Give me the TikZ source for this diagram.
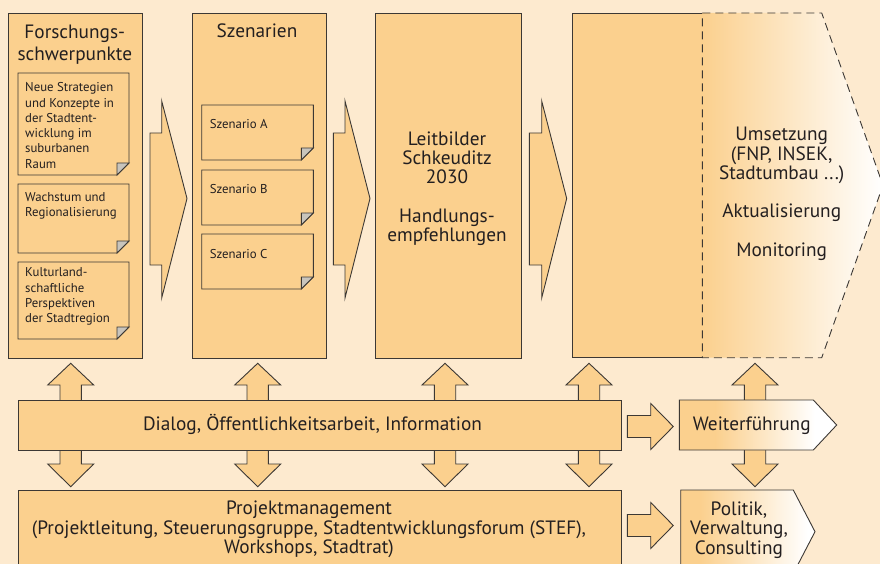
\documentclass[tikz,border=0pt]{standalone}
\usepackage{fontspec}
\setmainfont{PT Sans}
\definecolor{bgc}{RGB}{253,234,207}
\definecolor{boxc}{RGB}{251,208,142}
\definecolor{linec}{RGB}{60,56,52}
\definecolor{foldc}{RGB}{200,196,188}
\definecolor{txtc}{RGB}{35,31,32}
\newcommand\chevarrow[3]{%
  \draw[blockarrow] (#1,133) -- (#2,133) -- (#2,101) -- (#3,198.5) -- (#2,298) -- (#2,265) -- (#1,265) -- cycle;}
\newcommand\vdarrow[1]{%
  \draw[blockarrow] ({#1-10.7},401) -- ({#1-10.7},385) -- ({#1-23},385) -- (#1,363.3) -- ({#1+23},385) -- ({#1+10.7},385) -- ({#1+10.7},401);
  \draw[blockarrow] ({#1-10.7},449) -- ({#1-10.7},464) -- ({#1-23},464) -- (#1,486.7) -- ({#1+23},464) -- ({#1+10.7},464) -- ({#1+10.7},449);}
\newcommand\hrarrow[1]{%
  \draw[blockarrow] (627.3,{#1-11}) -- (650.7,{#1-11}) -- (650.7,{#1-23}) -- (673.3,#1) -- (650.7,{#1+23}) -- (650.7,{#1+11}) -- (627.3,{#1+11}) -- cycle;}
\newcommand\notebox[4]{%
  \draw[box] (#1,#2) -- (#3,#2) -- (#3,{#4-12}) -- ({#3-12},#4) -- (#1,#4) -- cycle;
  \draw[box, fill=foldc] ({#3-12},{#4-12}) -- (#3,{#4-12}) -- ({#3-12},#4) -- cycle;}
\begin{document}
\begin{tikzpicture}[x=1pt,y=-1pt,line join=miter,
  box/.style={draw=linec, fill=boxc, line width=0.9pt},
  blockarrow/.style={draw=linec, fill=boxc, line width=0.9pt},
  bigtxt/.style={text=txtc, align=center, inner sep=0pt, anchor=base, font=\fontsize{19.3}{19.2}\selectfont},
  titletxt/.style={text=txtc, align=center, inner sep=0pt, anchor=base, font=\fontsize{19.3}{22.7}\selectfont},
  notetxt/.style={text=txtc, align=left, inner sep=0pt, anchor=base west, font=\fontsize{12.8}{15.3}\selectfont},
  scentxt/.style={text=txtc, align=left, inner sep=0pt, anchor=base west, font=\fontsize{12.8}{15.3}\selectfont}
]
\fill[bgc] (0,0) rectangle (880,564);
\useasboundingbox (0,0) rectangle (880,564);

% main column boxes
\node[box, anchor=north west, minimum width=133.7pt, minimum height=344.7pt, inner sep=0pt] (fs) at (8,13) {};
\node[box, anchor=north west, minimum width=133.4pt, minimum height=344.7pt, inner sep=0pt] (sz) at (192.3,13) {};
\node[box, anchor=north west, minimum width=145.7pt, minimum height=344.7pt, inner sep=0pt] (lb) at (375,13) {};

% box 4 (solid + gradient dashed part)
\fill[boxc] (572.3,13) rectangle (702.3,357.7);
\shade[left color=boxc, right color=white] (702.3,13) -- (821.7,13) -- (883,185.3) -- (821.7,357.7) -- (702.3,357.7) -- cycle;
\draw[linec, line width=0.9pt] (702.3,13) -- (572.3,13) -- (572.3,357.7) -- (702.3,357.7);
\draw[linec, line width=0.9pt, dash pattern=on 8pt off 5pt] (702.3,13) -- (821.7,13) -- (883,185.3) -- (821.7,357.7) -- (702.3,357.7) -- cycle;
\coordinate (um) at (781.7,256);

% chevron arrows
\chevarrow{150}{161.7}{187}
\chevarrow{333.3}{345}{370}
\chevarrow{529.3}{541.7}{566.7}

% notes in column 1
\notebox{18}{73}{129}{175}
\notebox{18}{184}{129}{253}
\notebox{18}{262}{129}{339}
% scenario notes
\notebox{201.7}{105}{313.3}{160}
\notebox{201.7}{170}{313.3}{225}
\notebox{201.7}{234}{313.3}{289}

% titles and texts (anchor = baseline of the last line)
\node[titletxt] (t1) at (74.8,61) {Forschungs-\\schwerpunkte};
\node[titletxt] (t2) at (257,37.7) {Szenarien};
\node[notetxt] (n1) at (25,168.2) {Neue Strategien\\und Konzepte in\\der Stadtent-\\wicklung im\\suburbanen\\Raum};
\node[notetxt] (n2) at (25,216.3) {Wachstum und\\Regionalisierung};
\node[notetxt] (n3) at (25,322.6) {Kulturland-\\schaftliche\\Perspektiven\\der Stadtregion};
\node[scentxt] (sa) at (209.7,128.3) {Szenario A};
\node[scentxt] (sb) at (209.7,193.3) {Szenario B};
\node[scentxt] (sc) at (209.7,258.3) {Szenario C};
\node[bigtxt] (t3) at (447,241.5) {Leitbilder\\Schkeuditz\\2030\\[19.2pt]Handlungs-\\empfehlungen};
\node[bigtxt] (t4) at (um) {Umsetzung\\(FNP, INSEK,\\Stadtumbau ...)\\[19.2pt]Aktualisierung\\[19.2pt]Monitoring};

% vertical double arrows
\vdarrow{70.7}
\vdarrow{257.7}
\vdarrow{445}
\vdarrow{589}
\vdarrow{755}

% horizontal arrows
\hrarrow{426.5}
\hrarrow{525.5}

% dialog and project management
\node[box, anchor=north west, minimum width=602.4pt, minimum height=50pt, inner sep=0pt] (dl) at (18.3,400) {};
\node[bigtxt] (dlt) at (312.5,430) {Dialog, Öffentlichkeitsarbeit, Information};
\node[box, anchor=north west, minimum width=602.4pt, minimum height=90pt, inner sep=0pt] (pm) at (18.3,490) {};
\node[bigtxt] (pmt) at (309,553.3) {Projektmanagement\\(Projektleitung, Steuerungsgruppe, Stadtentwicklungsforum (STEF),\\Workshops, Stadtrat)};

% Weiterfuehrung
\begin{scope}
\clip (679.3,400) -- (813.3,400) -- (836.7,425) -- (813.3,450) -- (679.3,450) -- cycle;
\fill[boxc] (679,399) rectangle (716,451);
\shade[left color=boxc, right color=white] (715.5,399) rectangle (815,451);
\fill[white] (814.5,399) rectangle (840,451);
\end{scope}
\draw[linec, line width=0.9pt] (679.3,400) -- (813.3,400) -- (836.7,425) -- (813.3,450) -- (679.3,450) -- cycle;
\node[bigtxt] (wf) at (751.7,430) {Weiterführung};

% Politik
\begin{scope}
\clip (680.7,490) -- (793.3,490) -- (815,531.7) -- (793.3,573.4) -- (680.7,573.4) -- cycle;
\fill[boxc] (680,489) rectangle (700.5,575);
\shade[left color=boxc, right color=white] (700,489) rectangle (808,575);
\fill[white] (807.5,489) rectangle (820,575);
\end{scope}
\draw[linec, line width=0.9pt] (680.7,490) -- (793.3,490) -- (815,531.7) -- (793.3,573.4) -- (680.7,573.4) -- cycle;
\node[bigtxt] (pv) at (739,554) {Politik,\\Verwaltung,\\Consulting};
\end{tikzpicture}
\end{document}
